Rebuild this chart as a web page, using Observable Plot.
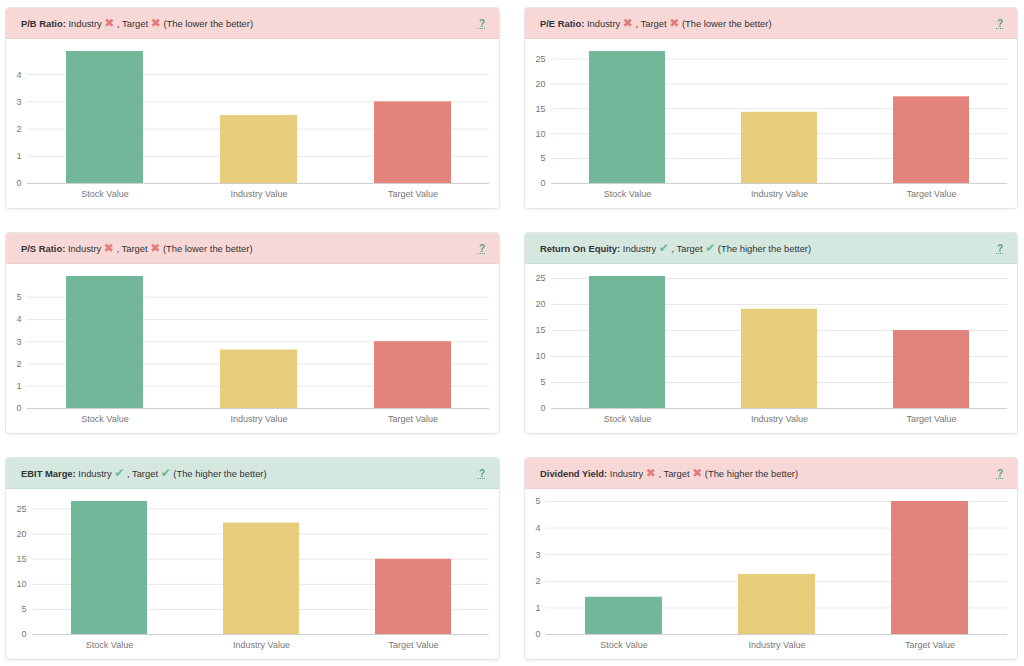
<!DOCTYPE html>
<html>
<head>
<meta charset="utf-8">
<script src="https://cdn.jsdelivr.net/npm/d3@7"></script>
<script src="https://cdn.jsdelivr.net/npm/@observablehq/plot@0.6"></script>
<style>
  html, body { margin: 0; padding: 0; background: #fff; width: 1024px; height: 666px; overflow: hidden; }
  body { position: relative; font-family: "Liberation Sans", Arial, sans-serif; }
  .card { position: absolute; box-sizing: border-box; border: 1px solid #e6e6e6; border-radius: 4px; background: #fff; box-shadow: 0 1px 2px rgba(0,0,0,0.06); overflow: hidden; }
  .head { position: absolute; left: 0; top: 0; right: 0; height: 31px; border-bottom: 1px solid #e3d0cf; box-sizing: border-box; padding-left: 15px; font-size: 9.4px; line-height: 31px; color: #333; white-space: nowrap; }
  .head.bad { background: #f8d8d7; border-bottom-color: #efcfce; }
  .head.good { background: #d4e8e0; border-bottom-color: #c8ddd5; }
  .head b { font-weight: bold; color: #333; }
  .x { color: #e47a7a; font-family: "DejaVu Sans"; font-size: 12px; line-height: 10px; }
  .ok { color: #6db69a; font-family: "DejaVu Sans"; font-size: 12px; line-height: 10px; }
  .q { position: absolute; right: 14px; top: 0; color: #5f9c86; font-size: 10px; font-weight: bold; text-decoration: underline dotted; }
  .body { position: absolute; left: 0; top: 31px; }
</style>
</head>
<body>
<script>
const categories = ["Stock Value", "Industry Value", "Target Value"];
const barColors = ["#73b79b", "#e8cd7c", "#e2847b"];

const titles = ["P/B Ratio:", "P/E Ratio:", "P/S Ratio:", "Return On Equity:", "EBIT Marge:", "Dividend Yield:"];
const notes = ["(The lower the better)", "(The lower the better)", "(The lower the better)", "(The higher the better)", "(The higher the better)", "(The higher the better)"];
const industryOk = [false, false, false, true, true, false];
const targetOk = [false, false, false, true, true, false];

const pbValues = [4.85, 2.5, 3.0];
const peValues = [26.5, 14.3, 17.4];
const psValues = [5.93, 2.63, 3.0];
const roeValues = [25.4, 19.1, 15.0];
const ebitValues = [26.5, 22.2, 15.0];
const dyValues = [1.4, 2.26, 5.0];

const seriesList = [pbValues, peValues, psValues, roeValues, ebitValues, dyValues];

// card geometry
const cols = [{left: 5, width: 495}, {left: 524, width: 494}];
const rows = [{top: 7, height: 202}, {top: 232, height: 202}, {top: 457, height: 203}];

function mark(ok) {
  return ok ? '<span class="ok">\u2714</span>' : '<span class="x">\u2716</span>';
}

seriesList.forEach((values, i) => {
  const col = cols[i % 2], row = rows[Math.floor(i / 2)];
  const card = document.createElement("div");
  card.className = "card";
  card.style.left = col.left + "px";
  card.style.top = row.top + "px";
  card.style.width = col.width + "px";
  card.style.height = row.height + "px";
  const good = industryOk[i] && targetOk[i];
  const head = document.createElement("div");
  head.className = "head " + (good ? "good" : "bad");
  head.innerHTML = `<b>${titles[i]}</b> Industry ${mark(industryOk[i])} , Target ${mark(targetOk[i])} ${notes[i]}<span class="q">?</span>`;
  card.appendChild(head);

  const data = categories.map((c, k) => ({category: c, value: values[k], color: barColors[k]}));
  const maxV = d3.max(values);
  const w = col.width - 2;
  const h = row.height - 2 - 31;
  const chart = Plot.plot({
    width: w,
    height: h,
    marginLeft: maxV >= 10 ? 26 : 21,
    marginRight: 10,
    marginTop: 12,
    marginBottom: 25,
    style: {background: "transparent", fontFamily: "Liberation Sans, Arial, sans-serif", fontSize: "9px", color: "#777"},
    x: {domain: categories, paddingInner: 0.5, paddingOuter: 0.25, label: null},
    y: {domain: [0, maxV], label: null},
    marks: [
      Plot.gridY({ticks: 6, stroke: "#e8e8e8", strokeOpacity: 1}),
      Plot.barY(data, {x: "category", y: "value", fill: "color"}),
      Plot.ruleY([0], {stroke: "#d0d0d0"}),
      Plot.axisY({ticks: 6, tickSize: 0, tickPadding: 6, label: null, tickFormat: d3.format("d")}),
      Plot.axisX({tickSize: 0, tickPadding: 7, label: null})
    ]
  });
  const body = document.createElement("div");
  body.className = "body";
  body.appendChild(chart);
  card.appendChild(body);
  document.body.appendChild(card);
});
</script>
</body>
</html>
